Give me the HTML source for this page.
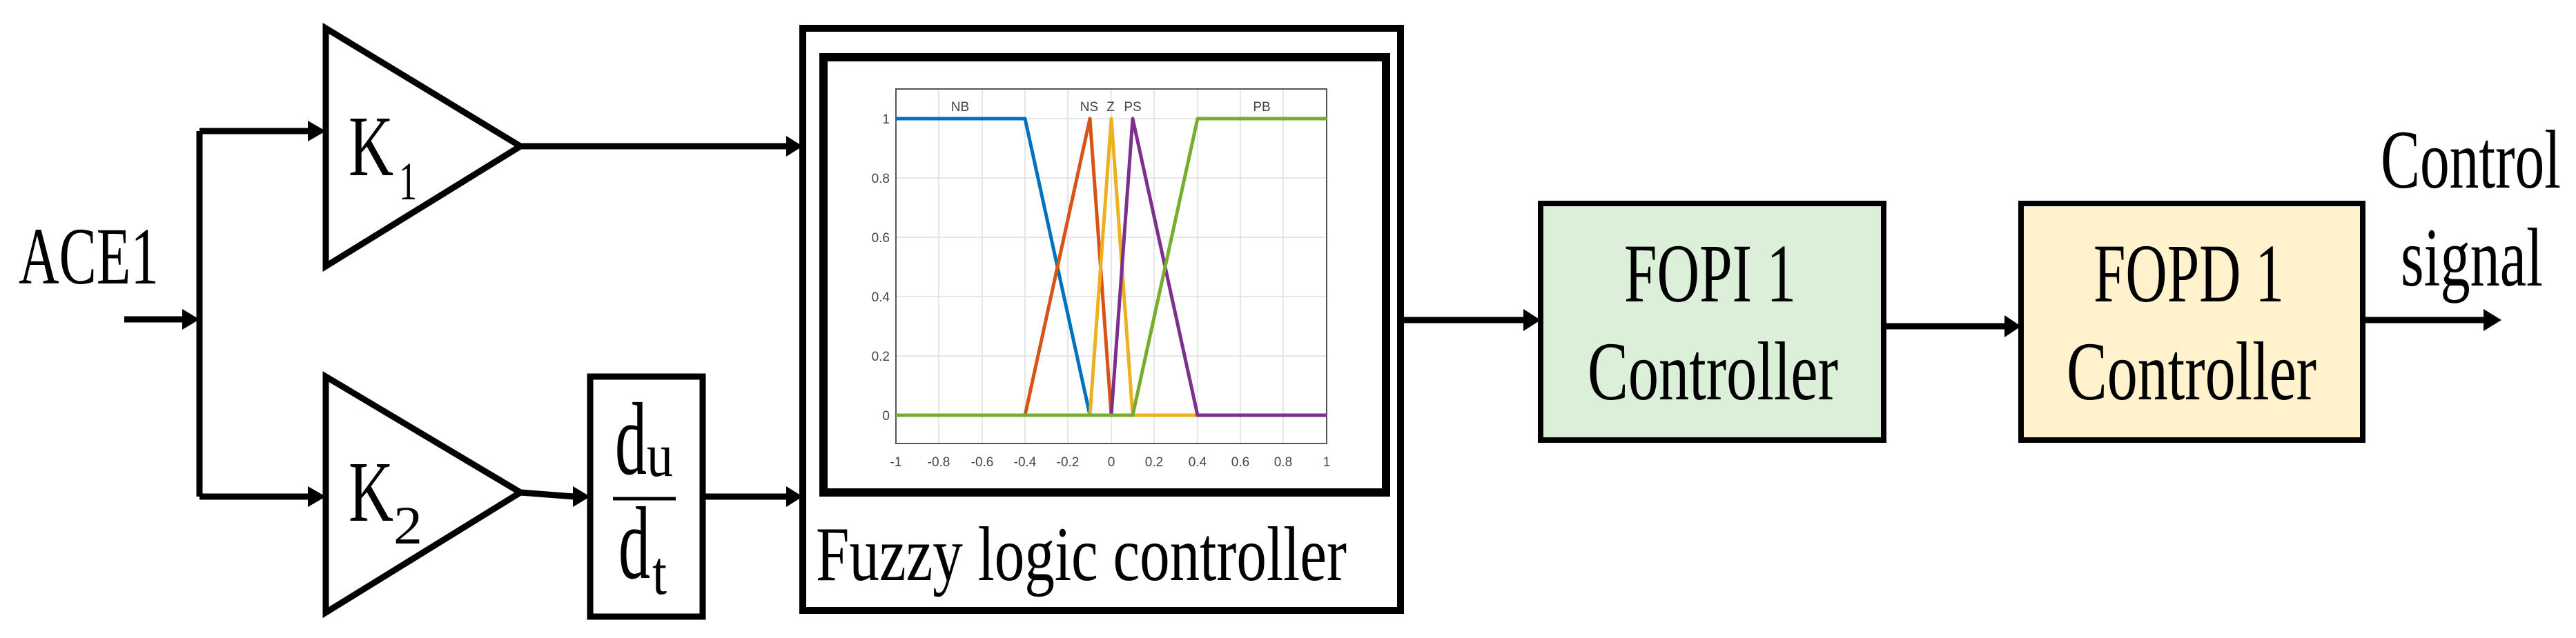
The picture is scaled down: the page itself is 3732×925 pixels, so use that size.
<!DOCTYPE html>
<html><head><meta charset="utf-8"><style>html,body{margin:0;padding:0;background:#fff;}svg{display:block}
.s text{font-family:"Liberation Serif","DejaVu Serif","Times New Roman",serif;}
.p text{font-family:"Liberation Sans","DejaVu Sans",sans-serif;}
</style></head>
<body>
<svg class="s" width="3732" height="925" viewBox="0 0 3732 925" xmlns="http://www.w3.org/2000/svg">
<g stroke="#000" stroke-width="9" fill="none">
  <line x1="180" y1="463" x2="265" y2="463"/>
  <polyline points="289,190 289,720"/>
  <line x1="289" y1="190" x2="448" y2="190"/>
  <line x1="289" y1="720" x2="448" y2="720"/>
  <polygon points="472,41 472,386 754,212"/>
  <polygon points="472,546 472,888 754,714"/>
  <line x1="754" y1="212" x2="1140" y2="212"/>
  <line x1="754" y1="714" x2="832" y2="720"/>
  <rect x="855" y="546" width="163" height="348"/>
  <line x1="1018" y1="720" x2="1140" y2="720"/>
  <rect x="1163" y="41" width="866" height="844" stroke-width="10"/>
  <rect x="1193" y="83" width="815" height="631" stroke-width="12"/>
  <line x1="2029" y1="464" x2="2208" y2="464"/>
  <line x1="2729" y1="473" x2="2905" y2="473"/>
  <line x1="3423" y1="464" x2="3600" y2="464"/>
</g>
<g fill="#000">
  <polygon points="264,448 289,463 264,478"/>
  <polygon points="446,175 472,190 446,205"/>
  <polygon points="446,705 472,720 446,735"/>
  <polygon points="1139,197 1163,212 1139,227"/>
  <polygon points="1139,705 1163,720 1139,735"/>
  <polygon points="830,705 855,720 830,735"/>
  <polygon points="2207,448 2232,464 2207,480"/>
  <polygon points="2904,457 2928,473 2904,489"/>
  <polygon points="3598,448 3624,464 3598,480"/>
</g>
<rect x="2232" y="295" width="497" height="343" fill="#dbefd9" stroke="#000" stroke-width="8"/>
<rect x="2928" y="295" width="495" height="343" fill="#fff2cc" stroke="#000" stroke-width="8"/>
<line x1="888" y1="723" x2="979" y2="723" stroke="#000" stroke-width="5"/>
<g fill="#000">
  <text x="27" y="411" font-size="118" textLength="203" lengthAdjust="spacingAndGlyphs">ACE1</text>
  <text x="505" y="254" font-size="125" textLength="65" lengthAdjust="spacingAndGlyphs">K</text>
  <text x="578" y="289" font-size="78" textLength="26" lengthAdjust="spacingAndGlyphs">1</text>
  <text x="505" y="755" font-size="125" textLength="65" lengthAdjust="spacingAndGlyphs">K</text>
  <text x="570" y="788" font-size="78" textLength="42" lengthAdjust="spacingAndGlyphs">2</text>
  <text x="891" y="687" font-size="150" textLength="46" lengthAdjust="spacingAndGlyphs">d</text>
  <text x="937" y="690" font-size="90" textLength="38" lengthAdjust="spacingAndGlyphs">u</text>
  <text x="896" y="838" font-size="150" textLength="46" lengthAdjust="spacingAndGlyphs">d</text>
  <text x="945" y="861" font-size="90" textLength="21" lengthAdjust="spacingAndGlyphs">t</text>
  <text x="1182" y="841" font-size="112" textLength="769" lengthAdjust="spacingAndGlyphs">Fuzzy logic controller</text>
  <text x="2353" y="437" font-size="121" textLength="249" lengthAdjust="spacingAndGlyphs">FOPI 1</text>
  <text x="2300" y="579" font-size="121" textLength="363" lengthAdjust="spacingAndGlyphs">Controller</text>
  <text x="3033" y="437" font-size="121" textLength="276" lengthAdjust="spacingAndGlyphs">FOPD 1</text>
  <text x="2994" y="579" font-size="121" textLength="362" lengthAdjust="spacingAndGlyphs">Controller</text>
  <text x="3449" y="272" font-size="121" textLength="261" lengthAdjust="spacingAndGlyphs">Control</text>
  <text x="3478" y="414" font-size="121" textLength="206" lengthAdjust="spacingAndGlyphs">signal</text>
</g>
<g stroke="#e6e6e6" stroke-width="2">
  <line x1="1360" y1="129" x2="1360" y2="643"/><line x1="1423" y1="129" x2="1423" y2="643"/>
  <line x1="1485" y1="129" x2="1485" y2="643"/><line x1="1547" y1="129" x2="1547" y2="643"/>
  <line x1="1610" y1="129" x2="1610" y2="643"/><line x1="1672" y1="129" x2="1672" y2="643"/>
  <line x1="1735" y1="129" x2="1735" y2="643"/><line x1="1797" y1="129" x2="1797" y2="643"/>
  <line x1="1859" y1="129" x2="1859" y2="643"/>
  <line x1="1298" y1="172" x2="1922" y2="172"/><line x1="1298" y1="258" x2="1922" y2="258"/>
  <line x1="1298" y1="344" x2="1922" y2="344"/><line x1="1298" y1="430" x2="1922" y2="430"/>
  <line x1="1298" y1="516" x2="1922" y2="516"/><line x1="1298" y1="602" x2="1922" y2="602"/>
</g>
<rect x="1298" y="129" width="624" height="514" fill="none" stroke="#555" stroke-width="2"/>
<g fill="none" stroke-width="5" stroke-linejoin="round">
  <polyline stroke="#0072bd" points="1298,172 1485,172 1579,602 1610,602"/>
  <polyline stroke="#d95319" points="1298,602 1485,602 1579,172 1610,602"/>
  <polyline stroke="#edb120" points="1579,602 1610,172 1641,602 1735,602"/>
  <polyline stroke="#7e2f8e" points="1610,602 1641,172 1735,602 1922,602"/>
  <polyline stroke="#77ac30" points="1298,602 1641,602 1735,172 1922,172"/>
</g>
<g class="p" font-size="19" fill="#444">
  <text x="1391" y="161" text-anchor="middle">NB</text>
  <text x="1578" y="161" text-anchor="middle">NS</text>
  <text x="1609" y="161" text-anchor="middle">Z</text>
  <text x="1641" y="161" text-anchor="middle">PS</text>
  <text x="1828" y="161" text-anchor="middle">PB</text>
  <g text-anchor="end">
    <text x="1289" y="179">1</text><text x="1289" y="265">0.8</text><text x="1289" y="351">0.6</text>
    <text x="1289" y="437">0.4</text><text x="1289" y="523">0.2</text><text x="1289" y="609">0</text>
  </g>
  <g text-anchor="middle">
    <text x="1298" y="676">-1</text><text x="1360" y="676">-0.8</text><text x="1423" y="676">-0.6</text>
    <text x="1485" y="676">-0.4</text><text x="1547" y="676">-0.2</text><text x="1610" y="676">0</text>
    <text x="1672" y="676">0.2</text><text x="1735" y="676">0.4</text><text x="1797" y="676">0.6</text>
    <text x="1859" y="676">0.8</text><text x="1922" y="676">1</text>
  </g>
</g>
</svg>
</body></html>
